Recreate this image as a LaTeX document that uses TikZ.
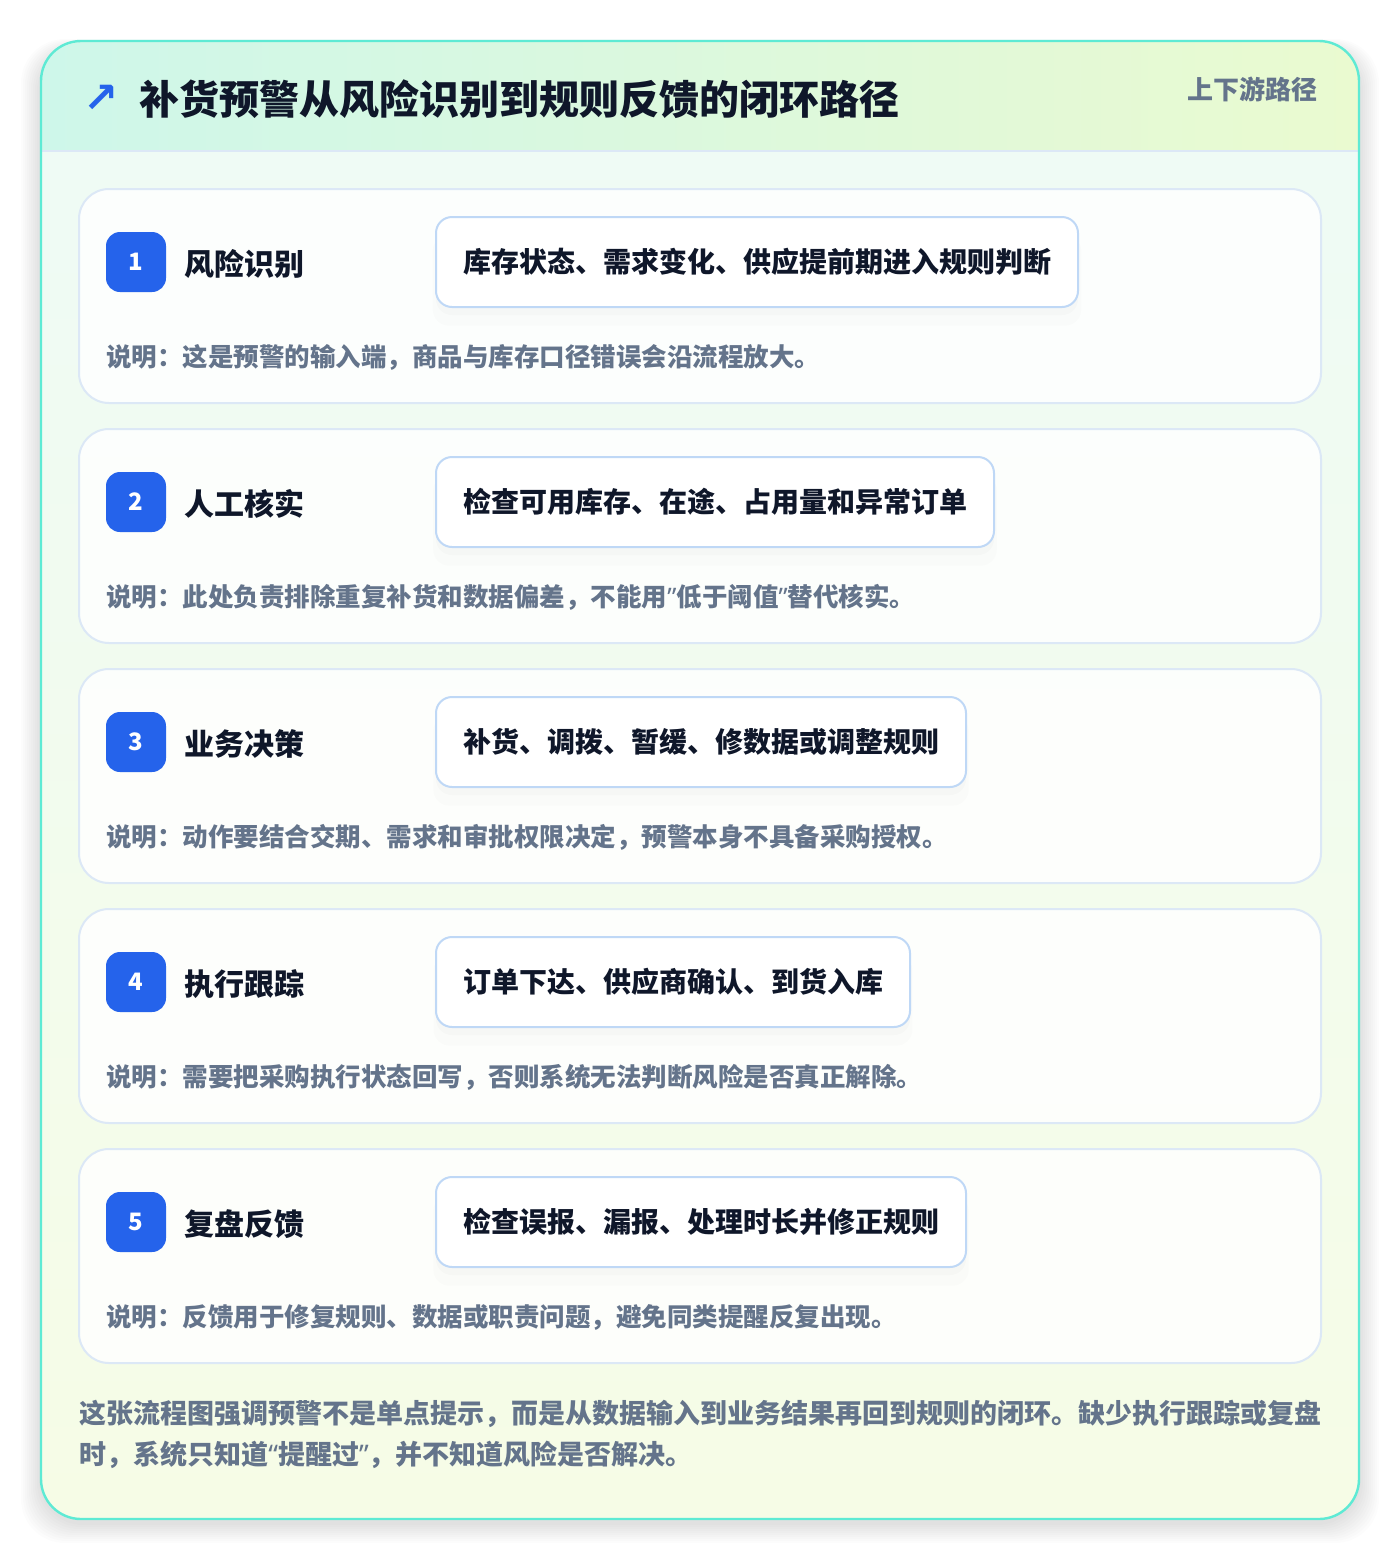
\documentclass[tikz,border=0pt]{standalone}
\usepackage{fontspec}
\setmainfont{Noto Sans CJK SC}
\newfontfamily\symfont{DejaVu Sans}
\newfontfamily\quotefont{Noto Sans}
\newcommand{\oq}{{\quotefont “}}
\newcommand{\cq}{{\quotefont ”}}
\usetikzlibrary{shadows}

\definecolor{cardedge}{HTML}{5EEAD4}
\definecolor{bodytop}{HTML}{EEFBF6}
\definecolor{bodybot}{HTML}{F6FCE6}
\definecolor{headleft}{HTML}{CEF7EA}
\definecolor{headright}{HTML}{EAFAD0}
\definecolor{stepedge}{HTML}{DCE8F6}
\definecolor{boxedge}{HTML}{BFD8F6}
\definecolor{badgeblue}{HTML}{2563EB}
\definecolor{ink}{HTML}{0F172A}
\definecolor{muted}{HTML}{64748B}

\tikzset{
  stepcard/.style={draw=stepedge, line width=1pt, fill=white, fill opacity=0.85, rounded corners=15pt},
  badge/.style={fill=badgeblue, rounded corners=7pt, minimum size=30pt, inner sep=0pt,
    text=white, font=\fontsize{12}{12}\selectfont\bfseries},
  steptitle/.style={text=ink, inner sep=0pt, font=\fontsize{15}{15}\selectfont\bfseries},
  detail/.style={draw=boxedge, line width=1pt, fill=white, rounded corners=8pt,
    minimum height=45pt, inner xsep=13.5pt, text=ink, font=\fontsize{14}{14}\selectfont\bfseries,
    drop shadow={opacity=0.025, shadow xshift=0pt, shadow yshift=-9pt, shadow scale=1.01},
    drop shadow={opacity=0.03, shadow xshift=0pt, shadow yshift=-4pt}},
  note/.style={text=muted, inner sep=0pt, font=\fontsize{12.75}{12.75}\selectfont\bfseries}
}

% one step: number, top y, title, box text, note
\newcommand{\stepcardrow}[5]{%
  \draw[stepcard] (79,#2) rectangle (1321,#2+214);
  \node[badge] (badge#1) at (136,#2+73) {#1};
  \node[steptitle, anchor=west] (title#1) at (184,#2+75) {#3};
  \node[detail, anchor=west] (box#1) at (435,#2+73) {#4};
  \node[note, anchor=west] (note#1) at (106,#2+168) {#5};
}

\begin{document}
\begin{tikzpicture}[x=0.5pt,y=-0.5pt]
  \useasboundingbox (0,0) rectangle (1400,1560);
  % soft shadow of the card
  \foreach \g in {1,...,10}
    \fill[black, opacity=0.01, rounded corners=22pt] (41-\g*2,41-\g+8) rectangle (1359+\g*2,1519+\g*2+4);
  % card body
  \shade[top color=bodytop, bottom color=bodybot, rounded corners=20pt] (41,41) rectangle (1359,1519);
  \begin{scope}
    \clip[rounded corners=20pt] (41,41) rectangle (1359,1519);
    \shade[left color=headleft, right color=headright] (41,41) rectangle (1359,151);
  \end{scope}
  \draw[stepedge, line width=1pt] (41,151) -- (1359,151);
  \draw[cardedge, line width=1.2pt, rounded corners=20pt] (41,41) rectangle (1359,1519);

  % header
  \node[text=badgeblue, inner sep=0pt, font=\symfont\fontsize{21}{21}\selectfont\bfseries] (arrow) at (101,99) {↗};
  \node[anchor=west, inner sep=0pt, text=ink, font=\fontsize{20}{20}\selectfont\bfseries] (head) at (139,99)
    {补货预警从风险识别到规则反馈的闭环路径};
  \node[anchor=east, inner sep=0pt, text=muted, font=\fontsize{13}{13}\selectfont\bfseries] (tag) at (1318,89)
    {上下游路径};

  % steps
  \stepcardrow{1}{189}{风险识别}{库存状态、需求变化、供应提前期进入规则判断}{说明：这是预警的输入端，商品与库存口径错误会沿流程放大。}
  \stepcardrow{2}{429}{人工核实}{检查可用库存、在途、占用量和异常订单}{说明：此处负责排除重复补货和数据偏差，不能用\cq 低于阈值\cq 替代核实。}
  \stepcardrow{3}{669}{业务决策}{补货、调拨、暂缓、修数据或调整规则}{说明：动作要结合交期、需求和审批权限决定，预警本身不具备采购授权。}
  \stepcardrow{4}{909}{执行跟踪}{订单下达、供应商确认、到货入库}{说明：需要把采购执行状态回写，否则系统无法判断风险是否真正解除。}
  \stepcardrow{5}{1149}{复盘反馈}{检查误报、漏报、处理时长并修正规则}{说明：反馈用于修复规则、数据或职责问题，避免同类提醒反复出现。}

  % closing remark
  \node[anchor=north west, inner sep=0pt, align=left, text=muted,
    font=\fontsize{13.5}{20.5}\selectfont\bfseries] (summary) at (79,1400)
    {这张流程图强调预警不是单点提示，而是从数据输入到业务结果再回到规则的闭环。缺少执行跟踪或复盘\\
     时，系统只知道\oq 提醒过\cq ，并不知道风险是否解决。};
\end{tikzpicture}
\end{document}
